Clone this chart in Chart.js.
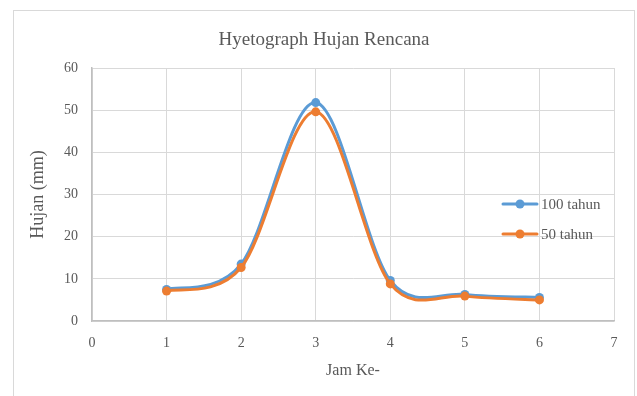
<!DOCTYPE html>
<html>
<head>
<meta charset="utf-8">
<script src="https://cdn.jsdelivr.net/npm/chart.js@4/dist/chart.umd.min.js"></script>
<style>
  html, body { margin: 0; padding: 0; background: #fff; }
  #wrap { position: relative; width: 637px; height: 396px; overflow: hidden; }
  #frame { position: absolute; left: 13px; top: 10px; width: 622px; height: 400px; border: 1px solid #d9d9d9; box-sizing: border-box; }
  canvas { position: absolute; left: 0; top: 0; }
</style>
</head>
<body>
<div id="wrap">
  <div id="frame"></div>
  <canvas id="c" width="637" height="396"></canvas>
</div>
<script>
const jamKe = [1, 2, 3, 4, 5, 6];
const hujan100 = [7.5, 13.5, 51.8, 9.6, 6.3, 5.6];
const hujan50 = [7.1, 12.7, 49.6, 8.8, 5.9, 5.0];
const seriesNames = ['100 tahun', '50 tahun'];
const seriesColors = ['#5B9BD5', '#ED7D31'];
const xTicks = [0, 1, 2, 3, 4, 5, 6, 7];
const yTicks = [0, 10, 20, 30, 40, 50, 60];

const serif = "'Liberation Serif', 'Times New Roman', serif";
const textColor = '#595959';

// Excel-style smoothing: Catmull-Rom tangents (1/6) limited to half the adjacent segment
const excelSmooth = {
  id: 'excelSmooth',
  beforeDatasetDraw(chart, args) {
    const meta = args.meta;
    const pts = meta.data;
    const n = pts.length;
    for (let i = 0; i < n; i++) {
      const p = pts[i];
      const prev = pts[i - 1] || p;
      const next = pts[i + 1] || p;
      const tx = (next.x - prev.x) / 6, ty = (next.y - prev.y) / 6;
      const tl = Math.hypot(tx, ty) || 1;
      let sPrev = 1, sNext = 1;
      if (i > 0) { const d = Math.hypot(p.x - prev.x, p.y - prev.y); if (tl > d / 2) sPrev = d / 2 / tl; }
      if (i < n - 1) { const d = Math.hypot(next.x - p.x, next.y - p.y); if (tl > d / 2) sNext = d / 2 / tl; }
      p.cp1x = p.x - tx * sPrev; p.cp1y = p.y - ty * sPrev;
      p.cp2x = p.x + tx * sNext; p.cp2y = p.y + ty * sNext;
    }
    meta.dataset._pointsUpdated = true;
  }
};

const legendPlugin = {
  id: 'customLegend',
  afterDraw(chart) {
    const ctx = chart.ctx;
    const x0 = 503, x1 = 537;
    const ys = [204, 234];
    chart.data.datasets.forEach((ds) => {
      const y = ys[ds.legendIndex];
      ctx.save();
      ctx.strokeStyle = ds.borderColor;
      ctx.lineWidth = 3;
      ctx.lineCap = 'round';
      ctx.beginPath();
      ctx.moveTo(x0, y);
      ctx.lineTo(x1, y);
      ctx.stroke();
      ctx.fillStyle = ds.borderColor;
      ctx.beginPath();
      ctx.arc((x0 + x1) / 2, y, 4.5, 0, Math.PI * 2);
      ctx.fill();
      ctx.fillStyle = textColor;
      ctx.font = "15px " + serif;
      ctx.textBaseline = 'middle';
      ctx.textAlign = 'left';
      ctx.fillText(ds.label, 541, y + 1);
      ctx.restore();
    });
  }
};

const mk = (vals) => jamKe.map((x, i) => ({ x: x, y: vals[i] }));

new Chart(document.getElementById('c'), {
  type: 'line',
  data: {
    datasets: [
      { label: seriesNames[0], data: mk(hujan100), borderColor: seriesColors[0], backgroundColor: seriesColors[0],
        borderWidth: 3, pointRadius: 4.5, pointBorderWidth: 0, tension: 0.4, order: 1, legendIndex: 0 },
      { label: seriesNames[1], data: mk(hujan50), borderColor: seriesColors[1], backgroundColor: seriesColors[1],
        borderWidth: 3, pointRadius: 4.5, pointBorderWidth: 0, tension: 0.4, order: 0, legendIndex: 1 }
    ]
  },
  options: {
    responsive: false,
    animation: false,
    devicePixelRatio: 1,
    layout: { padding: { left: 34, right: 23, top: 0, bottom: 0 } },
    plugins: {
      legend: { display: false },
      tooltip: { enabled: false },
      title: {
        display: true,
        text: 'Hyetograph Hujan Rencana',
        color: textColor,
        font: { family: serif, size: 19, weight: 'normal', lineHeight: 1.2 },
        padding: { top: 28.6, bottom: 16.6 }
      }
    },
    scales: {
      x: {
        type: 'linear',
        min: 0, max: 7,
        afterBuildTicks: (s) => { s.ticks = xTicks.map(v => ({ value: v })); },
        afterFit: (s) => { s.height = 75; },
        grid: { color: '#d9d9d9', lineWidth: 1, drawTicks: false },
        border: { color: '#bfbfbf', width: 1.5 },
        ticks: { color: textColor, font: { family: serif, size: 14 }, padding: 14 },
        title: { display: true, text: 'Jam Ke-', color: textColor,
          font: { family: serif, size: 16, lineHeight: 1.2 }, padding: { top: 0, bottom: 16 } }
      },
      y: {
        min: 0, max: 60,
        afterBuildTicks: (s) => { s.ticks = yTicks.map(v => ({ value: v })); },
        afterFit: (s) => { s.width = 58; },
        grid: { color: '#d9d9d9', lineWidth: 1, drawTicks: false },
        border: { color: '#bfbfbf', width: 1.5 },
        ticks: { color: textColor, font: { family: serif, size: 14 }, padding: 14 },
        title: { display: true, text: 'Hujan (mm)', color: textColor,
          font: { family: serif, size: 18, lineHeight: 1.2 }, padding: { top: -6.8, bottom: 0 } }
      }
    }
  },
  plugins: [excelSmooth, legendPlugin]
});
</script>
</body>
</html>
